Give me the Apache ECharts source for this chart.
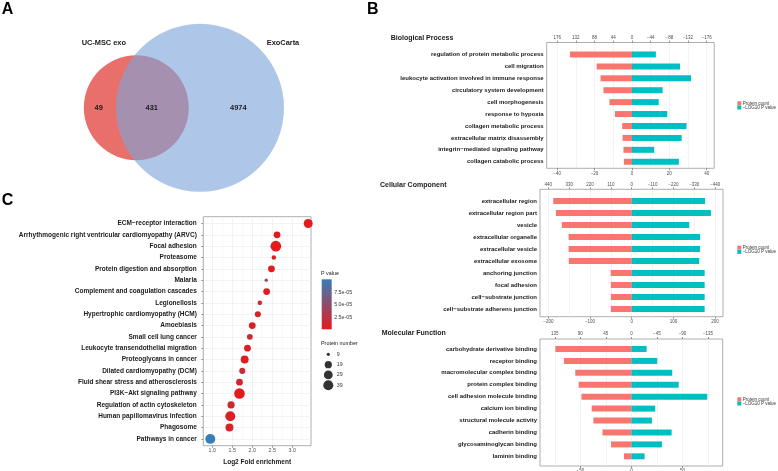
<!DOCTYPE html>
<html><head><meta charset="utf-8">
<script src="https://cdn.jsdelivr.net/npm/echarts@6/dist/echarts.min.js"></script>
<style>html,body{margin:0;padding:0;background:#fff}#c{width:778px;height:471px}</style>
</head><body><div id="c"></div>
<script>
// ---------- Panel A : Venn ----------
const vennSets = ['UC-MSC exo', 'ExoCarta'];
const vennCounts = [49, 431, 4974]; // only set 1, both, only set 2

// ---------- Panel B : GO ----------
const legendNames = ['Protein count', '\u2212LOG10 P value'];

const bpTerms = ['regulation of protein metabolic process','cell migration','leukocyte activation involved in immune response','circulatory system development','cell morphogenesis','response to hypoxia','collagen metabolic process','extracellular matrix disassembly','integrin\u2212mediated signaling pathway','collagen catabolic process'];
const bpCount = [146, 83, 74, 67, 53, 40, 23, 22, 20, 19];
const bpLogP = [12.8, 25.7, 31.6, 16.4, 14.3, 18.9, 29.2, 26.6, 11.9, 25.1];
const bpBottomTicks = [-40, -20, 0, 20, 40];
const bpTopTicks = [176, 132, 88, 44, 0, -44, -88, -132, -176];

const ccTerms = ['extracellular region','extracellular region part','vesicle','extracellular organelle','extracellular vesicle','extracellular exosome','anchoring junction','focal adhesion','cell\u2212substrate junction','cell\u2212substrate adherens junction'];
const ccCount = [414, 400, 369, 333, 333, 332, 111, 110, 110, 110];
const ccLogP = [176, 190, 138, 164, 164, 162, 175, 175, 175, 175];
const ccBottomTicks = [-200, -100, 0, 100, 200];
const ccTopTicks = [440, 330, 220, 110, 0, -110, -220, -330, -440];

const mfTerms = ['carbohydrate derivative binding','receptor binding','macromolecular complex binding','protein complex binding','cell adhesion molecule binding','calcium ion binding','structural molecule activity','cadherin binding','glycosaminoglycan binding','laminin binding'];
const mfCount = [134, 119, 99, 93, 88, 70, 67, 51, 36, 13];
const mfLogP = [14.9, 25.3, 40, 46.3, 74.3, 23.3, 20.1, 39.4, 29.9, 12.9];
const mfBottomTicks = [-50, 0, 50];
const mfTopTicks = [135, 90, 45, 0, -45, -90, -135];

// ---------- Panel C : KEGG ----------
const keggTerms = ['ECM\u2212receptor interaction','Arrhythmogenic right ventricular cardiomyopathy (ARVC)','Focal adhesion','Proteasome','Protein digestion and absorption','Malaria','Complement and coagulation cascades','Legionellosis','Hypertrophic cardiomyopathy (HCM)','Amoebiasis','Small cell lung cancer','Leukocyte transendothelial migration','Proteoglycans in cancer','Dilated cardiomyopathy (DCM)','Fluid shear stress and atherosclerosis','PI3K\u2212Akt signaling pathway','Regulation of actin cytoskeleton','Human papillomavirus infection','Phagosome','Pathways in cancer'];
const keggFold = [3.40, 2.62, 2.59, 2.54, 2.48, 2.35, 2.36, 2.19, 2.14, 2.00, 1.94, 1.88, 1.81, 1.75, 1.68, 1.68, 1.47, 1.45, 1.43, 0.95];
const keggCount = [30, 17, 45, 10, 17, 9, 17, 10, 14, 17, 13, 17, 23, 14, 17, 44, 19, 38, 23, 38];
const keggP = [1e-10, 3e-7, 1e-12, 5e-6, 1e-6, 4.2e-5, 2e-6, 1.5e-5, 5e-6, 6e-6, 1.6e-5, 6e-6, 4e-6, 1.8e-5, 1.2e-5, 2e-6, 1.4e-5, 6e-6, 9e-6, 1.02e-4];
const foldTicks = [1.0, 1.5, 2.0, 2.5, 3.0];
const foldMinorTicks = [1.25, 1.75, 2.25, 2.75, 3.25];
const pLegendTicks = [2.5e-5, 5.0e-5, 7.5e-5];
const sizeBreaks = [9, 19, 29, 39];

// ---------- styling ----------
const FONT = "'Liberation Sans', Arial, Helvetica, sans-serif";
const RED = '#F8766D', TEAL = '#00BFC4';
const P_LOW = '#E41A1C', P_HIGH = '#377EB8';
const fmtNum = v => (v < 0 ? '\u2212' + Math.abs(v) : String(Math.abs(v) < 1e-9 ? 0 : v));
const fmtExp = v => v.toExponential(1).replace(/e([+-])(\d)$/, 'e$10$2');

const nMin = Math.min(...keggCount), nMax = Math.max(...keggCount);
const D0 = 3.3, D1 = 10.7;
const sizeOf = n => D0 + (D1 - D0) * Math.sqrt(Math.max(0, (n - nMin) / (nMax - nMin)));

const panels = [
  {title:'Biological Process', terms:bpTerms, count:bpCount, logp:bpLogP, bottomTicks:bpBottomTicks, topTicks:bpTopTicks, k:4.4, range:[-45.6, 44],
   frame:{left:546.7, top:42.5, width:167.5, height:125.8}, dataTop:48.5, dataHeight:119.2, titleX:390.7, titleY:37.7, legendY:[103.3, 107.5]},
  {title:'Cellular Component', terms:ccTerms, count:ccCount, logp:ccLogP, bottomTicks:ccBottomTicks, topTicks:ccTopTicks, k:2.2, range:[-220, 219],
   frame:{left:540, top:189.3, width:183, height:127.4}, dataTop:195, dataHeight:120, titleX:380, titleY:185, legendY:[247.7, 251.9]},
  {title:'Molecular Function', terms:mfTerms, count:mfCount, logp:mfLogP, bottomTicks:mfBottomTicks, topTicks:mfTopTicks, k:1.8, range:[-89.5, 89.4],
   frame:{left:540, top:339, width:182.7, height:127}, dataTop:343, dataHeight:119.3, titleX:381.7, titleY:333.3, legendY:[399.3, 403.5]}
];

const option = {
  animation:false,
  textStyle:{fontFamily:FONT},
  grid:[], xAxis:[], yAxis:[], series:[], graphic:[], visualMap:[]
};
const gridBase = {containLabel:false, outerBoundsMode:'none'};
const tickLine = {color:'#333', width:0.5};

// ---------- Panel B ----------
panels.forEach(p => {
  const gF = option.grid.length;
  option.grid.push(Object.assign({left:p.frame.left, top:p.frame.top, width:p.frame.width, height:p.frame.height, show:true, borderColor:'#999', borderWidth:0.8, backgroundColor:'#fff'}, gridBase));
  const gD = option.grid.length;
  option.grid.push(Object.assign({left:p.frame.left, top:p.dataTop, width:p.frame.width, height:p.dataHeight, show:false}, gridBase));
  const lineAt = p.topTicks.map(v => -v / p.k);
  option.xAxis.push({gridIndex:gF, type:'value', min:p.range[0], max:p.range[1], axisLine:{show:false},
    axisTick:{show:false, customValues:lineAt}, axisLabel:{show:false, customValues:lineAt},
    splitLine:{show:true, lineStyle:{color:'#EBEBEB', width:0.6}}});
  option.yAxis.push({gridIndex:gF, type:'value', min:0, max:1, axisLine:{show:false}, axisTick:{show:false}, axisLabel:{show:false}, splitLine:{show:false}});
  const frameBottom = p.frame.top + p.frame.height, dataBottom = p.dataTop + p.dataHeight;
  const xB = option.xAxis.length;
  option.xAxis.push({gridIndex:gD, type:'value', position:'bottom', offset:frameBottom - dataBottom, min:p.range[0], max:p.range[1],
    axisLine:{show:false}, axisTick:{show:true, length:2, customValues:p.bottomTicks, lineStyle:tickLine},
    axisLabel:{customValues:p.bottomTicks, formatter:fmtNum, fontSize:4.5, color:'#4D4D4D', margin:2.5}, splitLine:{show:false}});
  const xT = option.xAxis.length;
  option.xAxis.push({gridIndex:gD, type:'value', position:'top', inverse:true, offset:p.dataTop - p.frame.top,
    min:-p.range[1] * p.k, max:-p.range[0] * p.k,
    axisLine:{show:false}, axisTick:{show:true, length:2, customValues:p.topTicks, lineStyle:tickLine},
    axisLabel:{customValues:p.topTicks, formatter:fmtNum, fontSize:4.5, color:'#4D4D4D', margin:2.5}, splitLine:{show:false}});
  const yC = option.yAxis.length;
  option.yAxis.push({gridIndex:gD, type:'category', inverse:true, data:p.terms, axisLine:{show:false},
    axisTick:{show:true, alignWithLabel:true, length:2, lineStyle:tickLine},
    axisLabel:{interval:0, fontSize:6, fontWeight:'bold', color:'#1A1A1A', margin:3}, splitLine:{show:false}});
  option.series.push({type:'bar', name:legendNames[0], xAxisIndex:xT, yAxisIndex:yC, data:p.count, barWidth:6, barGap:'-100%', itemStyle:{color:RED}});
  option.series.push({type:'bar', name:legendNames[1], xAxisIndex:xB, yAxisIndex:yC, data:p.logp, barWidth:6, barGap:'-100%', itemStyle:{color:TEAL}});
  option.graphic.push({type:'text', x:p.titleX, y:p.titleY, style:{text:p.title, fontSize:7, fontWeight:'bold', fontFamily:FONT, fill:'#1A1A1A', align:'left', verticalAlign:'middle'}});
  legendNames.forEach((n, j) => {
    option.graphic.push({type:'rect', shape:{x:737.3, y:p.legendY[j] - 2, width:4, height:4}, style:{fill:j === 0 ? RED : TEAL}});
    option.graphic.push({type:'text', x:742.7, y:p.legendY[j], style:{text:n, fontSize:4.5, fontFamily:FONT, fill:'#333', align:'left', verticalAlign:'middle'}});
  });
});

// ---------- Panel C ----------
const gC = option.grid.length;
option.grid.push(Object.assign({left:203.3, top:216.7, width:107.7, height:229, show:true, borderColor:'#999', borderWidth:0.8, backgroundColor:'#fff'}, gridBase));
const xC = option.xAxis.length;
option.xAxis.push({gridIndex:gC, type:'value', position:'bottom', min:0.775, max:3.47, axisLine:{show:false},
  axisTick:{show:true, length:2, customValues:foldTicks, lineStyle:tickLine},
  axisLabel:{customValues:foldTicks, formatter:v => v.toFixed(1), fontSize:5.3, color:'#4D4D4D', margin:2.5},
  splitLine:{show:true, lineStyle:{color:'#EBEBEB', width:0.6}},
  name:'Log2 Fold enrichment', nameLocation:'middle', nameGap:12.6, nameMoveOverlap:false,
  nameTextStyle:{fontSize:6.5, fontWeight:'bold', color:'#1A1A1A', fontFamily:FONT}});
option.xAxis.push({gridIndex:gC, type:'value', position:'top', min:0.775, max:3.47, axisLine:{show:false},
  axisTick:{show:false, customValues:foldMinorTicks}, axisLabel:{show:false, customValues:foldMinorTicks},
  splitLine:{show:true, lineStyle:{color:'#F0F0F0', width:0.35}}});
const keggIdx = keggTerms.map((t, i) => i + 1);
const yK = option.yAxis.length;
option.yAxis.push({gridIndex:gC, type:'value', inverse:true, min:0.4, max:keggTerms.length + 0.6, axisLine:{show:false},
  axisTick:{show:true, length:2, customValues:keggIdx, lineStyle:tickLine},
  axisLabel:{customValues:keggIdx, formatter:v => keggTerms[Math.round(v) - 1] || '', fontSize:6.5, fontWeight:'bold', color:'#1A1A1A', margin:6.5},
  splitLine:{show:true, lineStyle:{color:'#EBEBEB', width:0.6}}});
const dotSeries = option.series.length;
option.series.push({type:'scatter', xAxisIndex:xC, yAxisIndex:yK,
  data:keggTerms.map((t, i) => [keggFold[i], i + 1, keggCount[i], keggP[i]]),
  symbolSize:v => sizeOf(v[2]), itemStyle:{opacity:1}});
const pMin = Math.min(...keggP), pMax = Math.max(...keggP);
option.visualMap.push({type:'continuous', show:false, seriesIndex:dotSeries, dimension:3, min:pMin, max:pMax, inRange:{color:[P_LOW, P_HIGH]}});

// colour bar
const gBar = option.grid.length;
option.grid.push(Object.assign({left:321.7, top:279.3, width:10, height:50, show:false}, gridBase));
const xBar = option.xAxis.length;
option.xAxis.push({gridIndex:gBar, type:'category', data:[''], show:false});
const yBar = option.yAxis.length;
option.yAxis.push({gridIndex:gBar, type:'value', position:'right', min:0, max:pMax, axisLine:{show:false},
  axisTick:{show:true, inside:true, length:2, customValues:pLegendTicks, lineStyle:{color:'#fff', width:0.6}},
  axisLabel:{customValues:pLegendTicks, formatter:fmtExp, fontSize:5.3, color:'#333', margin:2.5}, splitLine:{show:false}});
option.series.push({type:'bar', xAxisIndex:xBar, yAxisIndex:yBar, data:[pMax], barWidth:'100%',
  itemStyle:{color:new echarts.graphic.LinearGradient(0, 1, 0, 0, [{offset:0, color:P_LOW}, {offset:1, color:P_HIGH}])}, silent:true});

// size legend
const gSize = option.grid.length;
option.grid.push(Object.assign({left:323.3, top:349.2, width:10, height:41.2, show:false}, gridBase));
const xS = option.xAxis.length;
option.xAxis.push({gridIndex:gSize, type:'category', data:[''], show:false});
const yS = option.yAxis.length;
option.yAxis.push({gridIndex:gSize, type:'category', inverse:true, position:'right', data:sizeBreaks.map(String),
  axisLine:{show:false}, axisTick:{show:false}, axisLabel:{interval:0, fontSize:5.3, color:'#333', margin:3.4}, splitLine:{show:false}});
option.series.push({type:'scatter', xAxisIndex:xS, yAxisIndex:yS, data:sizeBreaks.map((n, i) => [0, i, n]),
  symbolSize:v => sizeOf(v[2]), itemStyle:{color:'#000'}, silent:true});

option.graphic.push({type:'text', x:321, y:273.3, style:{text:'P value', fontSize:5.4, fontFamily:FONT, fill:'#1A1A1A', align:'left', verticalAlign:'middle'}});
option.graphic.push({type:'text', x:321, y:344, style:{text:'Protein number', fontSize:5.4, fontFamily:FONT, fill:'#1A1A1A', align:'left', verticalAlign:'middle'}});

// ---------- Panel A (Venn) ----------
option.graphic.push({type:'circle', shape:{cx:136.3, cy:107.7, r:52.5}, style:{fill:'#E9706A'}});
option.graphic.push({type:'circle', shape:{cx:200, cy:107.8, r:84}, style:{fill:'rgba(124,165,220,0.62)'}});
option.graphic.push({type:'text', x:103.8, y:43.3, style:{text:vennSets[0], fontSize:7.4, fontWeight:'bold', fontFamily:FONT, fill:'#1A1A1A', align:'center', verticalAlign:'middle'}});
option.graphic.push({type:'text', x:283, y:43.3, style:{text:vennSets[1], fontSize:7.4, fontWeight:'bold', fontFamily:FONT, fill:'#1A1A1A', align:'center', verticalAlign:'middle'}});
[98.7, 151.7, 238.3].forEach((x, i) => {
  option.graphic.push({type:'text', x:x, y:107.7, style:{text:String(vennCounts[i]), fontSize:7.4, fontWeight:'bold', fontFamily:FONT, fill:'#1A1A1A', align:'center', verticalAlign:'middle'}});
});

// ---------- panel letters ----------
[['A', 1.7, 9.2], ['B', 367, 9.5], ['C', 1.7, 200.8]].forEach(([t, x, y]) => {
  option.graphic.push({type:'text', x:x, y:y, style:{text:t, fontSize:16, fontWeight:'bold', fontFamily:FONT, fill:'#000', align:'left', verticalAlign:'middle'}});
});

const chart = echarts.init(document.getElementById('c'), null, {renderer:'canvas'});
chart.setOption(option);
</script>
</body></html>
